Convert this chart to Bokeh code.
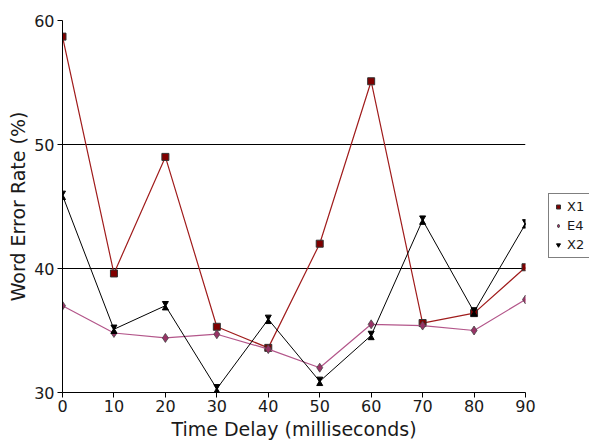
from bokeh.plotting import figure
from bokeh.models import Legend, LegendItem, Range1d, FixedTicker
from bokeh.embed import file_html
from bokeh.resources import INLINE

delays = [0, 10, 20, 30, 40, 50, 60, 70, 80, 90]
x1 = [58.7, 39.6, 49.0, 35.3, 33.6, 42.0, 55.1, 35.6, 36.4, 40.1]
e4 = [37.0, 34.8, 34.4, 34.7, 33.5, 32.0, 35.5, 35.4, 35.0, 37.5]
x2 = [45.9, 35.1, 37.0, 30.3, 35.9, 30.9, 34.6, 43.9, 36.5, 43.6]
y_ticks = [30, 40, 50, 60]
x_ticks = delays

p = figure(frame_width=463, frame_height=372, output_backend="svg", toolbar_location=None,
           x_range=Range1d(0, 90), y_range=Range1d(30, 60),
           min_border_left=62, min_border_top=20, min_border_bottom=40, min_border_right=64)
p.outline_line_color = None
p.xgrid.grid_line_color = None
p.ygrid.grid_line_color = "black"
p.ygrid.grid_line_width = 1
p.ygrid.grid_line_alpha = 1
p.yaxis.ticker = FixedTicker(ticks=y_ticks)
p.xaxis.ticker = FixedTicker(ticks=x_ticks)
for ax in (p.xaxis, p.yaxis):
    ax.axis_line_color = "black"
    ax.major_tick_line_color = "black"
    ax.minor_tick_line_color = None
    ax.major_tick_in = 0
    ax.major_tick_out = 5
    ax.major_label_text_font = "DejaVu Sans"
    ax.major_label_text_font_size = "16px"
    ax.major_label_text_color = "#1a1a1a"
    ax.axis_label_text_font = "DejaVu Sans"
    ax.axis_label_text_font_size = "19px"
    ax.axis_label_text_font_style = "normal"
    ax.axis_label_text_color = "#1a1a1a"
p.xaxis.axis_label = "Time Delay (milliseconds)"
p.yaxis.axis_label = "Word Error Rate (%)"
p.xaxis.axis_label_standoff = 3
p.yaxis.axis_label_standoff = 2
p.xaxis.major_label_standoff = 2
p.yaxis.major_label_standoff = 3

# X1
l1 = p.line(delays, x1, line_color="#a01c1c", line_width=1.2)
m1 = p.scatter(delays, x1, marker="square", size=7, fill_color="#800000", line_color="#333333", line_width=1)
# E4
l2 = p.line(delays, e4, line_color="#b3568a", line_width=1.2)
m2 = p.scatter(delays, e4, marker="diamond", size=9, fill_color="#993366", line_color="#444444", line_width=0.8)
# X2 (hourglass from two triangles)
l3 = p.line(delays, x2, line_color="black", line_width=1)
top = [v + 0.2 for v in x2]
bot = [v - 0.2 for v in x2]
m3a = p.scatter(delays, top, marker="inverted_triangle", size=6, fill_color="black", line_color="black")
m3b = p.scatter(delays, bot, marker="triangle", size=6, fill_color="black", line_color="black")

legend = Legend(items=[
    LegendItem(label="X1", renderers=[m1]),
    LegendItem(label="E4", renderers=[m2]),
    LegendItem(label="X2", renderers=[m3a]),
], location=(23, 134))
legend.label_text_font = "DejaVu Sans"
legend.label_text_font_size = "13px"
legend.label_text_color = "#1a1a1a"
legend.border_line_color = "black"
legend.glyph_width = 10
legend.glyph_height = 17
legend.label_height = 17
legend.spacing = 2
legend.padding = 4
legend.margin = 0
legend.label_standoff = 4
p.add_layout(legend, "right")

open("out.html", "w").write(file_html(p, INLINE))
